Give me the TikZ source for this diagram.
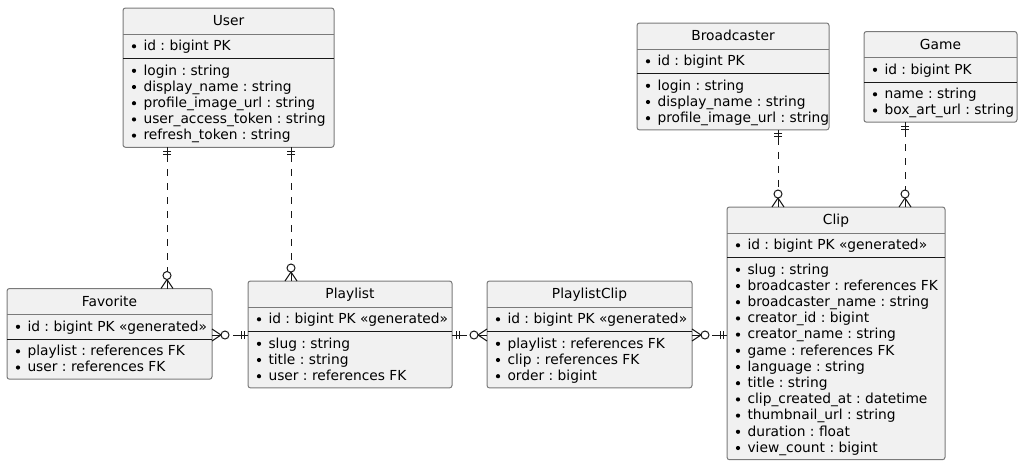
\documentclass[tikz,border=0pt]{standalone}
\usepackage{fontspec}
\setmainfont{DejaVu Sans}
\usetikzlibrary{calc}
\frenchspacing
\definecolor{boxfill}{HTML}{F1F1F1}
\definecolor{boxline}{HTML}{7A7A7A}
\definecolor{darkline}{HTML}{181818}
\tikzset{
  ebox/.style={draw=boxline, fill=boxfill, line width=1pt, rounded corners=2.5pt, inner sep=0pt, outer sep=0pt},
  sepgray/.style={draw=boxline, line width=1pt},
  sepblack/.style={draw=darkline, line width=1pt},
  txt/.style={inner sep=0pt, outer sep=0pt, font=\fontsize{13.8}{16.2}\selectfont\frenchspacing, text=black},
  conn/.style={draw=darkline, line width=1pt},
  erdash/.style={dash pattern=on 7pt off 7pt},
}
\newcommand\bulletitem[3]{%
  \fill[black] (#1+11,#2-4.2) circle (2.1pt);
  \node[txt, anchor=base west] at (#1+20.5,#2) {#3};}
% #1 name, #2 x, #3 y top, #4 width, #5 number of fields, #6 title, #7 id text, #8 fields
\newcommand\entity[8]{%
  \pgfmathsetmacro\eh{74.5+(#5-1)*16.2}
  \node[ebox, minimum width=#4pt, minimum height=\eh pt, anchor=north west] (#1) at (#2,#3) {};
  \draw[sepgray] (#2,#3+26) -- ++(#4,0);
  \draw[sepblack] (#2,#3+50.5) -- ++(#4,0);
  \node[txt, anchor=base] (#1-title) at (#2+#4/2,#3+17.5) {#6};
  \bulletitem{#2}{#3+42.5}{#7}
  \foreach \f [count=\i from 0] in {#8} {\bulletitem{#2}{#3+67+\i*16.2}{\f}}
}
% #1 one end (bars), #2 many end (circle + crow's foot)
\newcommand\erlink[2]{%
  \draw[conn] (#1) -- ($(#1)!8pt!(#2)$);
  \draw[conn, erdash] ($(#1)!8pt!(#2)$) -- ($(#2)!17pt!(#1)$);
  \draw[conn] ($(#1)!4pt!(#2)!4pt!90:(#2)$) -- ($(#1)!4pt!(#2)!4pt!-90:(#2)$);
  \draw[conn] ($(#1)!7pt!(#2)!4pt!90:(#2)$) -- ($(#1)!7pt!(#2)!4pt!-90:(#2)$);
  \draw[conn] ($(#2)!6pt!90:(#1)$) -- ($(#2)!9pt!(#1)$) -- ($(#2)!6pt!-90:(#1)$);
  \draw[conn] (#2) -- ($(#2)!9pt!(#1)$);
  \draw[conn, fill=white] ($(#2)!13pt!(#1)$) circle (4pt);
}
\begin{document}
\begin{tikzpicture}[x=1pt, y=-1pt]
\useasboundingbox (0,0) rectangle (1022,467);
\fill[white] (0,0) rectangle (1022,467);

\entity{user}{123}{8}{211}{5}{User}{id : bigint PK}{login : string, display\_name : string, profile\_image\_url : string, user\_access\_token : string, refresh\_token : string}
\entity{favorite}{7}{288.5}{205}{2}{Favorite}{id : bigint PK «generated»}{playlist : references FK, user : references FK}
\entity{playlist}{248}{281}{204}{3}{Playlist}{id : bigint PK «generated»}{slug : string, title : string, user : references FK}
\entity{playlistclip}{487}{281}{205}{3}{PlaylistClip}{id : bigint PK «generated»}{playlist : references FK, clip : references FK, order : bigint}
\entity{broadcaster}{637}{23}{192}{3}{Broadcaster}{id : bigint PK}{login : string, display\_name : string, profile\_image\_url : string}
\entity{game}{864}{31.5}{153}{2}{Game}{id : bigint PK}{name : string, box\_art\_url : string}
\entity{clip}{727}{207}{218}{12}{Clip}{id : bigint PK «generated»}{slug : string, broadcaster : references FK, broadcaster\_name : string, creator\_id : bigint, creator\_name : string, game : references FK, language : string, title : string, clip\_created\_at : datetime, thumbnail\_url : string, duration : float, view\_count : bigint}

\coordinate (xuf) at (167,0);
\coordinate (xup) at (291,0);
\coordinate (xbc) at (778,0);
\coordinate (xgc) at (905,0);
\coordinate (yrow) at (0,335);

\coordinate (uf1) at (user.south -| xuf);
\coordinate (uf2) at (favorite.north -| xuf);
\coordinate (up1) at (user.south -| xup);
\coordinate (up2) at (playlist.north -| xup);
\coordinate (pf1) at (playlist.west |- yrow);
\coordinate (pf2) at (favorite.east |- yrow);
\coordinate (pp1) at (playlist.east |- yrow);
\coordinate (pp2) at (playlistclip.west |- yrow);
\coordinate (cp1) at (clip.west |- yrow);
\coordinate (cp2) at (playlistclip.east |- yrow);
\coordinate (bc1) at (broadcaster.south -| xbc);
\coordinate (bc2) at (clip.north -| xbc);
\coordinate (gc1) at (game.south -| xgc);
\coordinate (gc2) at (clip.north -| xgc);

\erlink{uf1}{uf2}
\erlink{up1}{up2}
\erlink{pf1}{pf2}
\erlink{pp1}{pp2}
\erlink{cp1}{cp2}
\erlink{bc1}{bc2}
\erlink{gc1}{gc2}
\end{tikzpicture}
\end{document}
